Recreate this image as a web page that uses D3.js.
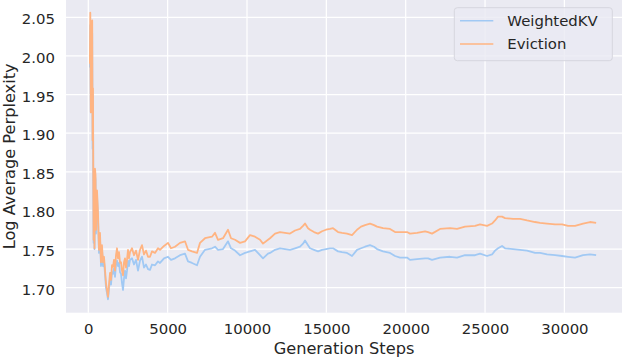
<!DOCTYPE html>
<html>
<head>
<meta charset="utf-8">
<script src="https://cdn.jsdelivr.net/npm/d3@7"></script>
<style>
  body { margin: 0; background: #ffffff; }
  #chart text { font-family: "DejaVu Sans", sans-serif; fill: #262626; }
</style>
</head>
<body>
<div id="chart"></div>
<script>
// Generation steps (shared by both series)
const steps = [
  100, 126, 158, 202, 246, 271, 296, 315, 334, 359, 391, 422, 454, 485, 548, 611,
  674, 737, 800, 863, 926, 989, 1052, 1115, 1178, 1241, 1304, 1367, 1430, 1493,
  1557, 1620, 1683, 1746, 1809, 1872, 1935, 1998, 2061, 2124, 2187, 2250, 2313,
  2376, 2439, 2502, 2565, 2628, 2754, 2880, 3006, 3132, 3258, 3384, 3510, 3636,
  3762, 3888, 4014, 4203, 4392,
  4518, 4771, 5023, 5212, 5464, 5779, 6094, 6283, 6535, 6850, 7039, 7354, 7796,
  7985, 8174, 8489, 8804, 8993, 9245, 9560, 9875, 10190, 10505, 10821, 11009,
  11325, 11451, 11766, 12081, 12396, 12711, 13026, 13341, 13530, 13656, 13845,
  13971, 14224, 14476, 14728, 14980, 15232, 15421, 15736, 15988, 16303, 16618,
  16933, 17185, 17438, 17753, 18005, 18194, 18572, 19013, 19328, 19643, 20084,
  20273, 20715, 21219, 21408, 21660, 22164, 22794, 23235, 23739, 24370, 24685,
  25126, 25441, 25630, 25819, 26071, 26260, 26764, 27206, 27647, 28151, 28466,
  28907, 29411, 29853, 30231, 30672, 31176, 31616, 32000
];

// WeightedKV
const weightedKV = [
  1.985, 2.040, 1.927, 2.020, 2.030, 1.880, 1.950, 1.835, 1.758, 1.805, 1.750, 1.845,
  1.840, 1.770, 1.820, 1.790, 1.745, 1.765, 1.728, 1.750, 1.728, 1.735, 1.718, 1.700,
  1.693, 1.685, 1.698, 1.712, 1.704, 1.720, 1.718, 1.725, 1.714, 1.730, 1.735, 1.728,
  1.732, 1.720, 1.718, 1.706, 1.697, 1.712, 1.722, 1.712, 1.722, 1.735, 1.728, 1.736,
  1.738, 1.730, 1.736, 1.722, 1.735, 1.740, 1.726, 1.730, 1.724, 1.723, 1.730, 1.729,
  1.734,
  1.732, 1.738, 1.740, 1.736, 1.738, 1.742, 1.744, 1.734, 1.732, 1.729, 1.740, 1.749,
  1.751, 1.753, 1.749, 1.750, 1.760, 1.751, 1.748, 1.742, 1.745, 1.747, 1.749, 1.742,
  1.738, 1.744, 1.745, 1.749, 1.751, 1.750, 1.749, 1.751, 1.753, 1.757, 1.761, 1.755,
  1.751, 1.749, 1.747, 1.749, 1.750, 1.751, 1.751, 1.747, 1.746, 1.745, 1.741, 1.749,
  1.751, 1.753, 1.755, 1.753, 1.750, 1.747, 1.745, 1.741, 1.739, 1.739, 1.736, 1.737,
  1.738, 1.738, 1.736, 1.739, 1.740, 1.739, 1.742, 1.742, 1.744, 1.741, 1.743, 1.748,
  1.751, 1.754, 1.751, 1.750, 1.749, 1.748, 1.745, 1.745, 1.743, 1.742, 1.741, 1.740,
  1.739, 1.742, 1.743, 1.742
];

// Eviction
const eviction = [
  1.990, 2.056, 1.927, 2.040, 2.046, 1.891, 1.958, 1.839, 1.762, 1.813, 1.751, 1.854,
  1.846, 1.775, 1.826, 1.797, 1.749, 1.771, 1.733, 1.755, 1.733, 1.740, 1.723, 1.706,
  1.697, 1.688, 1.704, 1.719, 1.710, 1.729, 1.727, 1.736, 1.722, 1.742, 1.751, 1.738,
  1.746, 1.732, 1.733, 1.722, 1.716, 1.733, 1.738, 1.726, 1.736, 1.749, 1.738, 1.746,
  1.751, 1.742, 1.748, 1.736, 1.749, 1.755, 1.743, 1.748, 1.740, 1.740, 1.747, 1.745,
  1.751,
  1.749, 1.754, 1.758, 1.751, 1.753, 1.758, 1.760, 1.749, 1.747, 1.745, 1.758, 1.764,
  1.766, 1.771, 1.762, 1.764, 1.775, 1.764, 1.762, 1.758, 1.760, 1.768, 1.766, 1.762,
  1.757, 1.762, 1.764, 1.770, 1.772, 1.771, 1.770, 1.774, 1.776, 1.780, 1.783, 1.777,
  1.775, 1.772, 1.770, 1.773, 1.775, 1.776, 1.777, 1.772, 1.771, 1.770, 1.768, 1.775,
  1.779, 1.781, 1.783, 1.781, 1.779, 1.777, 1.776, 1.772, 1.772, 1.772, 1.770, 1.771,
  1.773, 1.772, 1.770, 1.776, 1.777, 1.776, 1.779, 1.780, 1.782, 1.780, 1.783, 1.787,
  1.792, 1.792, 1.790, 1.789, 1.789, 1.787, 1.785, 1.784, 1.783, 1.782, 1.782, 1.780,
  1.780, 1.783, 1.785, 1.784
];

const xTicks = [0, 5000, 10000, 15000, 20000, 25000, 30000];
const yTicks = [1.70, 1.75, 1.80, 1.85, 1.90, 1.95, 2.00, 2.05];
const seriesNames = ["WeightedKV", "Eviction"];

const width = 622;
const height = 358;
const plot = { left: 66, right: 622, top: 0, bottom: 312.7 };
const colors = ["#a1c9f4", "#ffb482"];

const svg = d3
  .select("#chart")
  .append("svg")
  .attr("width", width)
  .attr("height", height);

// scales
const x = d3.scaleLinear().domain([-1405, 33630]).range([plot.left, plot.right]);
const y = d3.scaleLinear().domain([1.6676, 2.0724]).range([plot.bottom, plot.top]);

// background
svg
  .append("rect")
  .attr("x", plot.left)
  .attr("y", plot.top)
  .attr("width", plot.right - plot.left)
  .attr("height", plot.bottom - plot.top)
  .attr("fill", "#eaeaf2");

// grid
svg
  .append("g")
  .selectAll("line")
  .data(xTicks)
  .enter()
  .append("line")
  .attr("x1", (d) => x(d))
  .attr("x2", (d) => x(d))
  .attr("y1", plot.top)
  .attr("y2", plot.bottom)
  .attr("stroke", "#ffffff")
  .attr("stroke-width", 1.25);

svg
  .append("g")
  .selectAll("line")
  .data(yTicks)
  .enter()
  .append("line")
  .attr("x1", plot.left)
  .attr("x2", plot.right)
  .attr("y1", (d) => y(d))
  .attr("y2", (d) => y(d))
  .attr("stroke", "#ffffff")
  .attr("stroke-width", 1.25);

// axes (labels only, no tick marks)
const xAxis = svg
  .append("g")
  .attr("transform", `translate(0,${plot.bottom})`)
  .call(d3.axisBottom(x).tickValues(xTicks).tickFormat(d3.format("d")).tickSize(0).tickPadding(0));
xAxis.select(".domain").remove();
xAxis.selectAll("text").attr("y", 21).attr("dy", null).style("font-size", "14.9px");

const yAxis = svg
  .append("g")
  .attr("transform", `translate(${plot.left},0)`)
  .call(d3.axisLeft(y).tickValues(yTicks).tickFormat(d3.format(".2f")).tickSize(0).tickPadding(0));
yAxis.select(".domain").remove();
yAxis.selectAll("text").attr("x", -11).attr("dy", "6.5px").style("font-size", "14.9px");

// lines
const line = d3
  .line()
  .x((d, i) => x(steps[i]))
  .y((d) => y(d));

[weightedKV, eviction].forEach((vals, k) => {
  svg
    .append("path")
    .datum(vals)
    .attr("fill", "none")
    .attr("stroke", colors[k])
    .attr("stroke-width", 1.8)
    .attr("stroke-linejoin", "round")
    .attr("d", line);
});

// axis titles
svg
  .append("text")
  .attr("x", (plot.left + plot.right) / 2)
  .attr("y", 353.5)
  .attr("text-anchor", "middle")
  .style("font-size", "16.2px")
  .text("Generation Steps");

svg
  .append("text")
  .attr("transform", `translate(15,${(plot.top + plot.bottom) / 2}) rotate(-90)`)
  .attr("text-anchor", "middle")
  .style("font-size", "16.2px")
  .text("Log Average Perplexity");

// legend
const legend = svg.append("g").attr("transform", "translate(454.3,7.7)");

legend
  .append("rect")
  .attr("width", 158)
  .attr("height", 53)
  .attr("rx", 3)
  .attr("fill", "#eaeaf2")
  .attr("fill-opacity", 0.8)
  .attr("stroke", "#d6d6de")
  .attr("stroke-width", 1);

seriesNames.forEach((name, i) => {
  legend
    .append("line")
    .attr("x1", 5.7)
    .attr("x2", 39)
    .attr("y1", 13 + i * 23.3)
    .attr("y2", 13 + i * 23.3)
    .attr("stroke", colors[i])
    .attr("stroke-width", 1.6);

  legend
    .append("text")
    .attr("x", 53)
    .attr("y", 13 + i * 23.3)
    .attr("dy", "5.4px")
    .style("font-size", "14.9px")
    .text(name);
});
</script>
</body>
</html>
